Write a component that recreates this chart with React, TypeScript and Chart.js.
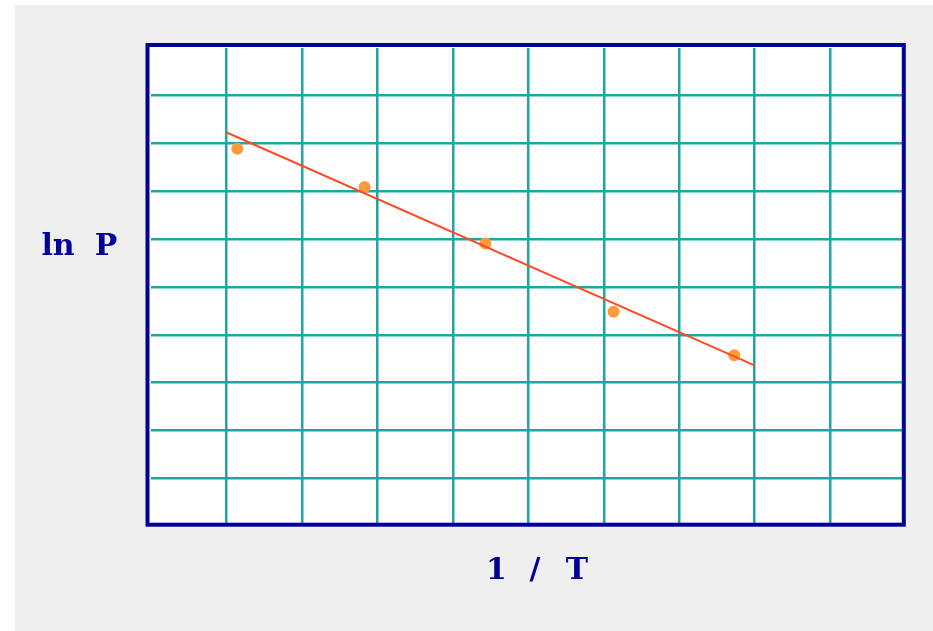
import React, { useEffect, useRef } from "react";
import { Chart, registerables } from "chart.js";

Chart.register(...registerables);

// Data
const pointX = [1.14, 2.83, 4.43, 6.13, 7.73];
const pointY = [7.89, 7.09, 5.91, 4.48, 3.57];
const fitX = [1, 8];
const fitY = [8.23, 3.36];

const yTitleParts = ["ln", "P"];
const xTitleParts = ["1", "/", "T"];

const NAVY = "#000099";
const TEAL = "#20a4a4";

const framePlugin = {
  id: "frame",
  beforeDraw(chart: any) {
    const { ctx, chartArea: a } = chart;
    ctx.save();
    ctx.fillStyle = "#ffffff";
    ctx.fillRect(a.left - 4, a.top - 3, a.right - a.left + 3, a.bottom - a.top + 2);
    ctx.restore();
  },
  afterDraw(chart: any) {
    const { ctx, chartArea: a } = chart;
    ctx.save();
    ctx.strokeStyle = NAVY;
    ctx.lineWidth = 4;
    ctx.strokeRect(a.left - 3.8, a.top - 2.9, a.right - a.left + 2.2, a.bottom - a.top + 1.6);

    ctx.fillStyle = NAVY;
    ctx.font = "bold 30px 'DejaVu Serif'";
    ctx.textAlign = "center";
    ctx.textBaseline = "alphabetic";
    const yCenters = [43, 91];
    yTitleParts.forEach((t, i) => ctx.fillText(t, yCenters[i], 250));
    const xCenters = [481.5, 520, 562];
    xTitleParts.forEach((t, i) => ctx.fillText(t, xCenters[i], 574));
    ctx.restore();
  },
};

export default function App() {
  const ref = useRef<HTMLCanvasElement | null>(null);

  useEffect(() => {
    if (!ref.current) return;
    const gridColor = (c: any) =>
      c.tick && (c.tick.value === 0 || c.tick.value === 10) ? "rgba(0,0,0,0)" : TEAL;
    const chart = new Chart(ref.current, {
      type: "scatter",
      data: {
        datasets: [
          {
            type: "line",
            data: fitX.map((x, i) => ({ x, y: fitY[i] })),
            borderColor: "#ff4a26",
            borderWidth: 2,
            pointRadius: 0,
            fill: false,
          } as any,
          {
            data: pointX.map((x, i) => ({ x, y: pointY[i] })),
            backgroundColor: "#ff9a3c",
            borderWidth: 0,
            pointRadius: 6,
          },
        ],
      },
      options: {
        animation: false,
        responsive: false,
        devicePixelRatio: 1,
        layout: { padding: { left: 136.3, top: 42.9, right: 27.6, bottom: 105 } },
        plugins: { legend: { display: false }, tooltip: { enabled: false } },
        scales: {
          x: {
            type: "linear",
            min: 0,
            max: 10,
            ticks: { display: false, stepSize: 1 },
            grid: { color: gridColor, lineWidth: 2.5, drawTicks: false },
            border: { display: false },
            afterFit: (s: any) => {
              s.height = 0;
            },
          },
          y: {
            type: "linear",
            min: 0,
            max: 10,
            ticks: { display: false, stepSize: 1 },
            grid: { color: gridColor, lineWidth: 2.5, drawTicks: false },
            border: { display: false },
            afterFit: (s: any) => {
              s.width = 0;
            },
          },
        },
      },
      plugins: [framePlugin],
    });
    return () => chart.destroy();
  }, []);

  return (
    <div style={{ position: "fixed", left: 0, top: 0, width: 933, height: 631, background: "#ffffff" }}>
      <div style={{ position: "absolute", left: 15, top: 5, width: 918, height: 626, background: "#efefef" }}>
        <canvas ref={ref} width={918} height={626} style={{ display: "block" }} />
      </div>
    </div>
  );
}
